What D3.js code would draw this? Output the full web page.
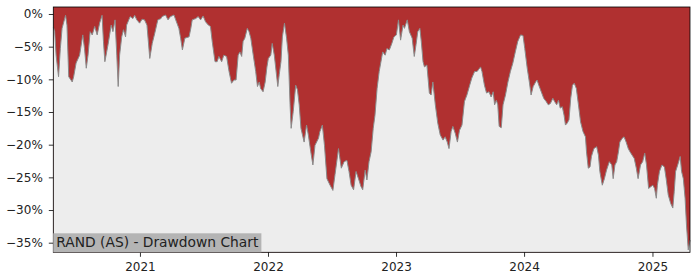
<!DOCTYPE html>
<html>
<head>
<meta charset="utf-8">
<script src="https://cdn.jsdelivr.net/npm/d3@7"></script>
<style>
	body { margin: 0; background: #ffffff; }
	svg { display: block; font-family: "DejaVu Sans", sans-serif; }
</style>
</head>
<body>
<svg id="chart" width="700" height="280"></svg>
<script>
(function (d3) {
	"use strict";

	/***** Data *****/

	// Traced dates of the drawdown curve
	var dates = [
		"2020-04-29","2020-05-03","2020-05-07","2020-05-14","2020-05-19","2020-05-24","2020-06-03","2020-06-07",
		"2020-06-12","2020-06-22","2020-06-26","2020-07-03","2020-07-13","2020-07-22","2020-07-27","2020-08-01",
		"2020-08-06","2020-08-12","2020-08-18","2020-08-25","2020-09-01","2020-09-08","2020-09-15","2020-09-19",
		"2020-09-23","2020-10-02","2020-10-11","2020-10-16","2020-10-22","2020-10-27","2020-10-31","2020-11-04",
		"2020-11-10","2020-11-15","2020-11-21","2020-11-24","2020-12-04","2020-12-12","2020-12-17","2020-12-23",
		"2020-12-31","2021-01-07","2021-01-14","2021-01-21","2021-01-29","2021-02-05","2021-02-12","2021-02-21",
		"2021-03-02","2021-03-05","2021-03-15","2021-03-22","2021-03-29","2021-04-08","2021-04-13","2021-04-22",
		"2021-04-27","2021-05-02","2021-05-09","2021-05-21","2021-05-26","2021-05-30","2021-06-09","2021-06-16",
		"2021-06-23","2021-06-30","2021-07-07","2021-07-15","2021-07-21","2021-07-26","2021-08-03","2021-08-09",
		"2021-08-14","2021-08-22","2021-08-28","2021-09-05","2021-09-12","2021-09-19","2021-09-26","2021-10-02",
		"2021-10-08","2021-10-13","2021-10-18","2021-10-22","2021-10-27","2021-11-03","2021-11-08","2021-11-13",
		"2021-11-20","2021-11-27","2021-12-02","2021-12-07","2021-12-11","2021-12-18","2021-12-24","2021-12-29",
		"2022-01-02","2022-01-09","2022-01-13","2022-01-19","2022-01-29","2022-02-02","2022-02-07","2022-02-11",
		"2022-02-17","2022-02-23","2022-02-28","2022-03-05","2022-03-08","2022-03-14","2022-03-21","2022-03-26",
		"2022-03-31","2022-04-05","2022-04-14","2022-04-21","2022-04-26","2022-05-03","2022-05-09","2022-05-15",
		"2022-05-25","2022-05-29","2022-06-05","2022-06-11","2022-06-18","2022-06-27","2022-07-05","2022-07-11",
		"2022-07-21","2022-07-29","2022-08-06","2022-08-14","2022-08-20","2022-08-26","2022-09-02","2022-09-09",
		"2022-09-16","2022-09-23","2022-09-28","2022-10-05","2022-10-10","2022-10-16","2022-10-22","2022-10-28",
		"2022-11-02","2022-11-08","2022-11-14","2022-11-24","2022-12-01","2022-12-06","2022-12-13","2022-12-20",
		"2022-12-26","2023-01-02","2023-01-08","2023-01-14","2023-01-21","2023-01-25","2023-02-02","2023-02-08",
		"2023-02-16","2023-02-22","2023-02-27","2023-03-04","2023-03-10","2023-03-14","2023-03-19","2023-03-23",
		"2023-03-30","2023-04-06","2023-04-11","2023-04-16","2023-04-23","2023-04-30","2023-05-07","2023-05-15",
		"2023-05-21","2023-05-27","2023-06-01","2023-06-07","2023-06-12","2023-06-19","2023-06-25","2023-07-01",
		"2023-07-08","2023-07-15","2023-07-22","2023-07-30","2023-08-05","2023-08-13","2023-08-20","2023-08-30",
		"2023-09-03","2023-09-10","2023-09-16","2023-09-23","2023-09-29","2023-10-05","2023-10-09","2023-10-14",
		"2023-10-18","2023-10-22","2023-10-28","2023-11-02","2023-11-09","2023-11-16","2023-11-23","2023-11-30",
		"2023-12-07","2023-12-14","2023-12-22","2023-12-29","2024-01-03","2024-01-10","2024-01-16","2024-01-21",
		"2024-01-27","2024-02-03","2024-02-07","2024-02-12","2024-02-19","2024-02-26","2024-03-04","2024-03-10",
		"2024-03-16","2024-03-23","2024-03-28","2024-04-03","2024-04-08","2024-04-13","2024-04-19","2024-04-24",
		"2024-04-28","2024-05-03","2024-05-08","2024-05-13","2024-05-18","2024-05-23","2024-05-29","2024-06-04",
		"2024-06-10","2024-06-17","2024-06-24","2024-06-27","2024-07-02","2024-07-07","2024-07-11","2024-07-18",
		"2024-07-26","2024-07-31","2024-08-04","2024-08-11","2024-08-17","2024-08-23","2024-08-31","2024-09-07",
		"2024-09-11","2024-09-16","2024-09-21","2024-09-26","2024-09-30","2024-10-07","2024-10-12","2024-10-18",
		"2024-10-24","2024-10-29","2024-11-04","2024-11-10","2024-11-16","2024-11-21","2024-11-28","2024-12-04",
		"2024-12-10","2024-12-15","2024-12-21","2024-12-28","2025-01-02","2025-01-07","2025-01-12","2025-01-15",
		"2025-01-21","2025-01-28","2025-02-04","2025-02-09","2025-02-15","2025-02-22","2025-02-28","2025-03-04",
		"2025-03-08","2025-03-14","2025-03-21","2025-03-25","2025-03-30","2025-04-04","2025-04-08","2025-04-13",
		"2025-04-18"
	];

	// Drawdown in percent for each date above
	var drawdown = [
		-2.0,-2.7,-6.3,-9.6,-5.3,-2.2,-0.2,-1.7,
		-9.6,-10.4,-9.6,-7.5,-6.3,-3.2,-5.3,-8.3,
		-6.3,-2.7,-3.2,-1.9,-3.2,-1.4,-0.2,-4.2,
		-7.3,-4.7,-1.7,-2.7,-0.9,-6.3,-11.1,-6.3,
		-3.5,-2.4,-3.5,-1.7,-0.4,-0.7,-0.2,-0.9,
		-1.4,-0.8,-0.9,-1.7,-6.8,-4.5,-3.0,-0.9,
		-0.7,-0.4,-0.15,-0.9,-0.4,-0.15,-0.9,-2.2,
		-3.7,-5.5,-3.7,-3.5,-2.2,-0.9,-0.7,-0.4,
		-0.9,-0.3,-1.2,-1.7,-1.9,-4.2,-7.3,-7.3,
		-6.5,-7.3,-6.3,-6.5,-8.8,-10.6,-10.1,-10.1,
		-6.3,-5.8,-6.5,-4.2,-3.7,-2.2,-2.7,-3.7,
		-6.3,-8.8,-11.1,-10.4,-11.4,-11.9,-10.4,-8.1,
		-6.8,-6.3,-4.5,-6.3,-11.1,-9.3,-7.3,-3.5,
		-1.4,-3.7,-6.3,-13.9,-17.5,-14.9,-10.9,-11.6,
		-13.9,-17.5,-19.6,-17.0,-18.5,-21.1,-23.1,-20.1,
		-19.0,-18.0,-17.0,-20.1,-25.2,-26.2,-27.0,-24.6,
		-20.6,-23.6,-22.6,-22.4,-24.1,-26.2,-26.9,-24.1,
		-25.2,-26.4,-26.9,-23.9,-25.4,-22.6,-21.1,-17.5,
		-15.5,-11.4,-8.8,-5.8,-6.3,-5.3,-5.5,-4.5,
		-3.5,-3.2,-0.9,-4.0,-1.7,-2.2,-0.9,-2.7,
		-3.7,-6.5,-4.7,-2.7,-2.2,-4.2,-7.3,-8.1,
		-7.8,-12.1,-12.4,-10.4,-13.9,-16.7,-18.5,-19.3,
		-18.8,-19.6,-20.6,-18.0,-17.2,-18.3,-19.6,-17.8,
		-17.0,-13.4,-12.4,-10.9,-9.8,-8.8,-8.8,-8.1,
		-8.8,-10.9,-12.1,-11.9,-12.7,-11.9,-13.9,-13.2,
		-13.9,-17.2,-17.4,-13.9,-12.4,-10.4,-8.8,-7.5,
		-5.8,-4.2,-3.2,-3.3,-5.3,-8.3,-10.4,-12.4,
		-11.1,-10.4,-10.1,-10.9,-11.9,-12.9,-13.4,-13.9,
		-13.7,-12.9,-13.4,-13.9,-13.2,-14.4,-14.2,-15.5,
		-17.0,-16.7,-16.2,-12.9,-10.9,-10.6,-11.4,-13.9,
		-16.5,-18.0,-18.8,-21.1,-23.6,-23.4,-21.8,-20.6,
		-20.3,-21.6,-24.1,-26.2,-25.2,-23.9,-22.6,-23.1,
		-25.2,-23.1,-22.6,-21.1,-19.6,-19.0,-18.8,-19.6,
		-20.6,-21.1,-21.6,-22.1,-23.6,-25.2,-23.1,-22.6,
		-21.3,-23.1,-26.7,-26.4,-26.2,-26.7,-28.2,-26.2,
		-24.1,-23.1,-23.4,-25.2,-27.7,-29.0,-29.7,-27.2,
		-24.1,-23.1,-21.8,-24.1,-25.2,-28.2,-32.3,-36.1,
		-34.6
	];

	// Axis ticks
	var yTicks = [0, -5, -10, -15, -20, -25, -30, -35];
	var xTicks = ["2021-01-01", "2022-01-01", "2023-01-01", "2024-01-01", "2025-01-01"];
	var yDomain = [-36.47, 1.07];

	var title = "RAND (AS) - Drawdown Chart";

	/***** Layout *****/
	const width = 700, height = 280;
	const margin = {top: 7, right: 10, bottom: 27.7, left: 53.3};
	const plotW = width - margin.left - margin.right;
	const plotH = height - margin.top - margin.bottom;

	var parse = d3.timeParse("%Y-%m-%d");
	var data = dates.map(function (d, i) {
		return {date: parse(d), value: drawdown[i]};
	});

	// Scales
	var x = d3.scaleTime()
		.domain(d3.extent(data, function (d) { return d.date; }))
		.range([0, plotW]);
	var y = d3.scaleLinear().domain(yDomain).range([plotH, 0]);

	var svg = d3.select("#chart");
	var g = svg.append("g")
		.attr("transform", "translate(" + margin.left + "," + margin.top + ")");

	// Red background above the curve, grey below it
	g.append("rect")
		.attr("width", plotW)
		.attr("height", plotH)
		.attr("fill", "#b03030");

	var area = d3.area()
		.x(function (d) { return x(d.date); })
		.y0(plotH)
		.y1(function (d) { return y(d.value); });

	g.append("path")
		.datum(data)
		.attr("d", area)
		.attr("fill", "#ededed");

	var line = d3.line()
		.x(function (d) { return x(d.date); })
		.y(function (d) { return y(d.value); });

	g.append("path")
		.datum(data)
		.attr("d", line)
		.attr("fill", "none")
		.attr("stroke", "#8a8a8a")
		.attr("stroke-width", 1);

	/***** Axes *****/
	var fmtPct = function (v) { return (v < 0 ? "\u2212" + (-v) : v) + "%"; };

	var yAxis = g.append("g")
		.call(d3.axisLeft(y).tickValues(yTicks).tickFormat(fmtPct).tickSize(4.5).tickPadding(6));
	var xAxis = g.append("g")
		.attr("transform", "translate(0," + plotH + ")")
		.call(d3.axisBottom(x).tickValues(xTicks.map(parse)).tickFormat(d3.timeFormat("%Y")).tickSize(4.5).tickPadding(6));

	[yAxis, xAxis].forEach(function (ax) {
		ax.select(".domain").remove();
		ax.selectAll("line").attr("stroke", "#000").attr("stroke-width", 0.8);
		ax.selectAll("text")
			.attr("fill", "#222")
			.style("font-family", "DejaVu Sans")
			.style("font-size", "12px");
	});

	// Frame
	g.append("rect")
		.attr("width", plotW)
		.attr("height", plotH)
		.attr("fill", "none")
		.attr("stroke", "#000")
		.attr("stroke-width", 0.8);

	/***** Title box *****/
	var label = g.append("g");
	var box = label.append("rect").attr("fill", "#b4b4b4");
	var txt = label.append("text")
		.attr("x", 3)
		.attr("y", plotH - 5)
		.attr("fill", "#222")
		.style("font-size", "13.8px")
		.text(title);
	var tw = txt.node().getComputedTextLength();
	box.attr("x", 0)
		.attr("y", plotH - 19)
		.attr("width", tw + 6)
		.attr("height", 19);

})(d3);
</script>
</body>
</html>
